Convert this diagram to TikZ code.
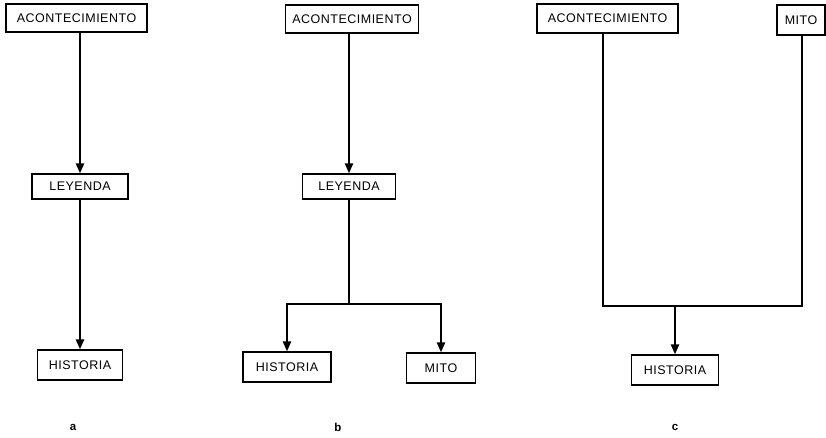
\documentclass[tikz,border=0pt]{standalone}
\usepackage{fontspec}
\setmainfont{Liberation Sans}[LetterSpace=4]
\usetikzlibrary{arrows.meta}
\begin{document}
\begin{tikzpicture}[x=1pt,y=-1pt,
  box/.style={draw,line width=1.2pt,inner sep=0pt,font=\fontsize{12.5}{14}\selectfont},
  conn/.style={line width=2.2pt},
  arr/.style={conn,-{Triangle[length=10pt,width=8pt]}},
  lab/.style={font=\fontsize{11.5}{12}\selectfont\bfseries}]
\useasboundingbox (0,0) rectangle (826,438);
% a
\node[box,minimum width=141pt,minimum height=28pt] (A1) at (76.5,18) {ACONTECIMIENTO};
\node[box,minimum width=96pt,minimum height=25pt] (L1) at (80,186.5) {LEYENDA};
\node[box,minimum width=85pt,minimum height=30pt] (H1) at (80,365) {HISTORIA};
\draw[arr] (A1.south -| L1.north) -- (L1.north);
\draw[arr] (L1.south) -- (H1.north);
\node[lab] (la) at (73,427) {a};
% b
\node[box,minimum width=133pt,minimum height=28pt] (A2) at (352,19) {ACONTECIMIENTO};
\node[box,minimum width=93pt,minimum height=25pt] (L2) at (349,186.5) {LEYENDA};
\node[box,minimum width=88pt,minimum height=30pt] (H2) at (287,367) {HISTORIA};
\node[box,minimum width=69pt,minimum height=30pt] (M2) at (441,368) {MITO};
\draw[arr] (A2.south -| L2.north) -- (L2.north);
\coordinate (jb) at (349,304);
\draw[conn] (L2.south) -- (jb);
\draw[arr] (jb) -| (H2.north);
\draw[arr] (jb) -| (M2.north);
\node[lab] (lb) at (338,427) {b};
% c
\node[box,minimum width=141pt,minimum height=29pt] (A3) at (607.5,18.5) {ACONTECIMIENTO};
\node[box,minimum width=48pt,minimum height=30pt] (M3) at (801,20) {MITO};
\node[box,minimum width=87pt,minimum height=30pt] (H3) at (675,370) {HISTORIA};
\coordinate (c1) at (603,306);
\coordinate (c2) at (802,306);
\draw[conn] (A3.south -| c1) -- (c1) -- (c2) -- (M3.south -| c2);
\coordinate (c3) at (H3.north |- c1);
\draw[arr] (c3) -- (H3.north);
\node[lab] (lc) at (675,427) {c};
\end{tikzpicture}
\end{document}
